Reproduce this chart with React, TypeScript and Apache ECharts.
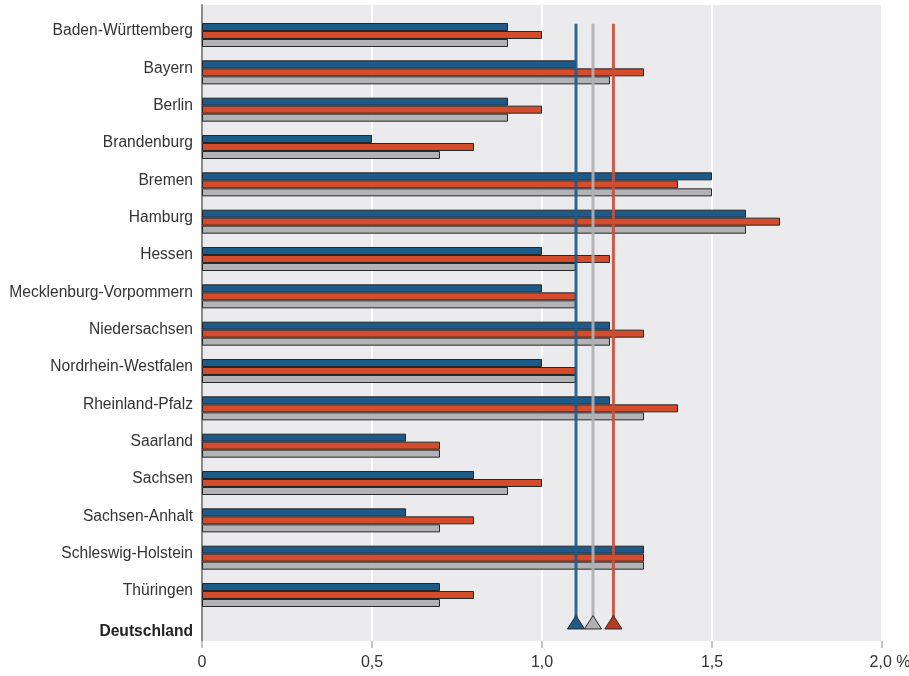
import React, { useEffect, useRef } from "react";
import * as echarts from "echarts";

const categories = [
  "Baden-Württemberg",
  "Bayern",
  "Berlin",
  "Brandenburg",
  "Bremen",
  "Hamburg",
  "Hessen",
  "Mecklenburg-Vorpommern",
  "Niedersachsen",
  "Nordrhein-Westfalen",
  "Rheinland-Pfalz",
  "Saarland",
  "Sachsen",
  "Sachsen-Anhalt",
  "Schleswig-Holstein",
  "Thüringen",
  "Deutschland",
];

const seriesBlue = [0.9, 1.1, 0.9, 0.5, 1.5, 1.6, 1.0, 1.0, 1.2, 1.0, 1.2, 0.6, 0.8, 0.6, 1.3, 0.7, null];
const seriesRed = [1.0, 1.3, 1.0, 0.8, 1.4, 1.7, 1.2, 1.1, 1.3, 1.1, 1.4, 0.7, 1.0, 0.8, 1.3, 0.8, null];
const seriesGray = [0.9, 1.2, 0.9, 0.7, 1.5, 1.6, 1.1, 1.1, 1.2, 1.1, 1.3, 0.7, 0.9, 0.7, 1.3, 0.7, null];

// Germany averages (vertical reference lines)
const germanyBlue = 1.1;
const germanyGray = 1.15;
const germanyRed = 1.21;

const xTickLabels: Record<string, string> = {
  "0": "0",
  "0.5": "0,5",
  "1": "1,0",
  "1.5": "1,5",
  "2": "2,0 %",
};

const BLUE = "#1b5a89";
const RED = "#d44c2b";
const GRAY = "#b3b3b7";
const LINE_BLUE = "#1d5b8b";
const LINE_GRAY = "#b0b0b2";
const LINE_RED = "#c5503a";
const TRI_RED = "#b83c20";

const FONT = "'Liberation Sans', Arial, sans-serif";
const FS = 15.6;
const FSX = 16;

export default function App() {
  const ref = useRef<HTMLDivElement>(null);

  useEffect(() => {
    if (!ref.current) return;
    const chart = echarts.init(ref.current, undefined, { renderer: "svg" });
    const last = categories.length - 1;

    const refLine = (value: number, lineColor: string, triColor: string) => ({
      type: "custom",
      xAxisIndex: 1,
      yAxisIndex: 1,
      z: 5,
      data: [[value, last]],
      encode: { x: 0, y: 1 },
      renderItem: (params: any, api: any) => {
        const v = api.value(0);
        const top = api.coord([v, 0]);
        const bot = api.coord([v, last]);
        const band = api.size([0, 1])[1];
        const yTop = top[1] - band * 0.3;
        const yApex = bot[1] - band * 0.45;
        const yBase = bot[1] - band * 0.09;
        const hw = 8.6;
        const x = top[0];
        return {
          type: "group",
          children: [
            {
              type: "line",
              shape: { x1: x, y1: yTop, x2: x, y2: yApex + 3 },
              style: { stroke: lineColor, lineWidth: 3, opacity: 0.92 },
            },
            {
              type: "polygon",
              shape: {
                points: [
                  [x, yApex],
                  [x - hw, yBase],
                  [x + hw, yBase],
                ],
              },
              style: { fill: triColor, stroke: "#2a2a2a", lineWidth: 1 },
            },
          ],
        };
      },
    });

    const barStyle = (color: string) => ({
      color,
      borderColor: "#262626",
      borderWidth: 1,
    });

    chart.setOption({
      animation: false,
      textStyle: { fontFamily: FONT },
      grid: [
        {
          left: 202,
          right: 27,
          top: 5,
          bottom: 35,
          show: true,
          backgroundColor: "#ebebed",
          borderWidth: 0,
          containLabel: false,
          outerBoundsMode: "none",
        },
        {
          left: 202,
          right: 27,
          top: 16.33,
          bottom: 25,
          show: false,
          containLabel: false,
          outerBoundsMode: "none",
        },
      ],
      xAxis: [
        {
          type: "value",
          gridIndex: 0,
          min: 0,
          max: 2,
          interval: 0.5,
          axisLine: { show: false },
          axisTick: {
            show: true,
            length: 7,
            lineStyle: { color: "#c4c4c4", width: 2 },
          },
          splitLine: {
            show: true,
            lineStyle: { color: "#ffffff", width: 2 },
          },
          axisLabel: {
            margin: 12,
            fontSize: FSX,
            color: "#333333",
            fontFamily: FONT,
            formatter: (v: number) => {
              const s = xTickLabels[String(v)] ?? String(v);
              return v === 2 ? `{pct|${s}}` : s;
            },
            rich: {
              pct: {
                fontSize: FSX,
                color: "#333333",
                fontFamily: FONT,
                padding: [0, 0, 0, 16],
              },
            },
          },
        },
        {
          type: "value",
          gridIndex: 1,
          min: 0,
          max: 2,
          show: false,
        },
      ],
      yAxis: [
        {
          type: "value",
          gridIndex: 0,
          min: 0,
          max: 1,
          axisLine: { show: true, lineStyle: { color: "#8c8c8c", width: 2 } },
          axisTick: { show: false },
          axisLabel: { show: false },
          splitLine: { show: false },
        },
        {
          type: "category",
          gridIndex: 1,
          inverse: true,
          data: categories,
          axisLine: { show: false },
          axisTick: { show: false },
          splitLine: { show: false },
          axisLabel: {
            margin: 9,
            fontSize: FS,
            color: "#333333",
            fontFamily: FONT,
            formatter: (v: string) =>
              v === "Deutschland" ? `{d|${v}}` : `{n|${v}}`,
            rich: {
              n: {
                fontSize: FS,
                color: "#333333",
                fontFamily: FONT,
                padding: [0, 0, 10, 0],
              },
              d: {
                fontSize: FS,
                fontWeight: "bold",
                color: "#222222",
                fontFamily: FONT,
                padding: [0, 0, 3, 0],
              },
            },
          },
        },
      ],
      series: [
        {
          type: "bar",
          xAxisIndex: 1,
          yAxisIndex: 1,
          data: seriesBlue,
          barWidth: 8,
          barGap: "0%",
          itemStyle: barStyle(BLUE),
          z: 2,
        },
        {
          type: "bar",
          xAxisIndex: 1,
          yAxisIndex: 1,
          data: seriesRed,
          barWidth: 8,
          barGap: "0%",
          itemStyle: barStyle(RED),
          z: 2,
        },
        {
          type: "bar",
          xAxisIndex: 1,
          yAxisIndex: 1,
          data: seriesGray,
          barWidth: 8,
          barGap: "0%",
          itemStyle: barStyle(GRAY),
          z: 2,
        },
        refLine(germanyBlue, LINE_BLUE, LINE_BLUE),
        refLine(germanyGray, LINE_GRAY, LINE_GRAY),
        refLine(germanyRed, LINE_RED, TRI_RED),
      ],
    });

    return () => chart.dispose();
  }, []);

  return (
    <div
      ref={ref}
      style={{ position: "fixed", left: 0, top: 0, width: 909, height: 676 }}
    />
  );
}
